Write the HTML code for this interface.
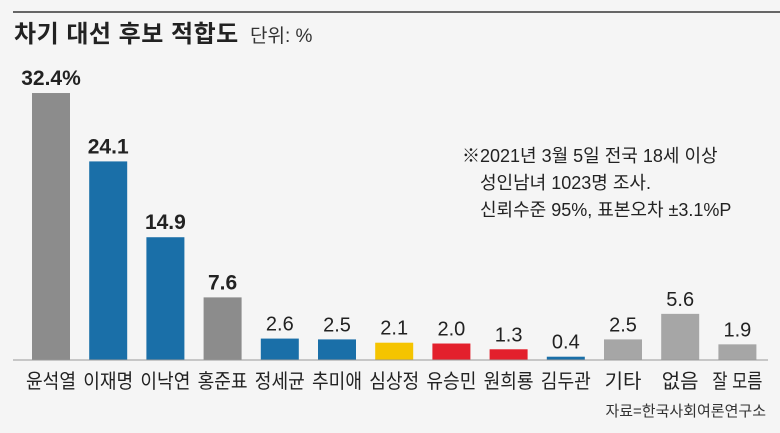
<!DOCTYPE html>
<html><head><meta charset="utf-8">
<style>
body{margin:0;background:#f5f5f5;}
svg{display:block;font-family:"Liberation Sans","Noto Sans CJK KR",sans-serif;}
</style></head>
<body>
<svg width="780" height="433">
<rect width="780" height="433" fill="#f5f5f5"/>
<line x1="13" y1="12" x2="780" y2="12" stroke="#666" stroke-width="2"/>
<text x="14" y="42" font-size="24" font-weight="bold" fill="#222" letter-spacing="0.5">차기 대선 후보 적합도</text>
<text x="250" y="42" font-size="19" fill="#333">단위: %</text>
<g font-size="18" fill="#222">
<text x="462" y="162">※2021년 3월 5일 전국 18세 이상</text>
<text x="480" y="189">성인남녀 1023명 조사.</text>
<text x="480" y="216">신뢰수준 95%, 표본오차 ±3.1%P</text>
</g>
<g id="bars"></g>
<line x1="13" y1="360" x2="768" y2="360" stroke="#999" stroke-width="1"/>
<text x="766" y="416" font-size="15" fill="#333" text-anchor="end">자료=한국사회여론연구소</text>
</svg>
<script>
const categories=["윤석열","이재명","이낙연","홍준표","정세균","추미애","심상정","유승민","원희룡","김두관","기타","없음","잘 모름"];
const values=[32.4,24.1,14.9,7.6,2.6,2.5,2.1,2.0,1.3,0.4,2.5,5.6,1.9];
const valueLabels=["32.4%","24.1","14.9","7.6","2.6","2.5","2.1","2.0","1.3","0.4","2.5","5.6","1.9"];
const colors=["#8c8c8c","#1a6fa8","#1a6fa8","#8c8c8c","#1a6fa8","#1a6fa8","#f5c400","#e3202c","#e3202c","#1a6fa8","#a6a6a6","#a6a6a6","#a6a6a6"];
const NS="http://www.w3.org/2000/svg";
const base=360,scale=8.24,x0=32,step=57.2,bw=38;
const xs=i=>x0+i*step;
const ys=v=>base-v*scale;
const g=document.getElementById('bars');
categories.forEach((c,i)=>{
  const r=document.createElementNS(NS,'rect');
  r.setAttribute('x',xs(i));r.setAttribute('y',ys(values[i]));
  r.setAttribute('width',bw);r.setAttribute('height',base-ys(values[i]));
  r.setAttribute('fill',colors[i]);
  
  
  g.appendChild(r);
  const t=document.createElementNS(NS,'text');
  t.setAttribute('x',xs(i)+bw/2);t.setAttribute('y',ys(values[i])-8);
  t.setAttribute('text-anchor','middle');
  t.setAttribute('font-size',i<4?'21':'20');
  if(i<4)t.setAttribute('font-weight','bold');
  t.setAttribute('fill','#222');
  t.textContent=valueLabels[i];
  
  
  g.appendChild(t);
  const l=document.createElementNS(NS,'text');
  l.setAttribute('x',xs(i)+bw/2);l.setAttribute('y',388);
  l.setAttribute('text-anchor','middle');
  l.setAttribute('font-size','20');l.setAttribute('fill','#222');
  if(c.length>=3){l.setAttribute('textLength','50');l.setAttribute('lengthAdjust','spacingAndGlyphs');}
  l.textContent=c;
  
  
  g.appendChild(l);
});
</script>
</body></html>
